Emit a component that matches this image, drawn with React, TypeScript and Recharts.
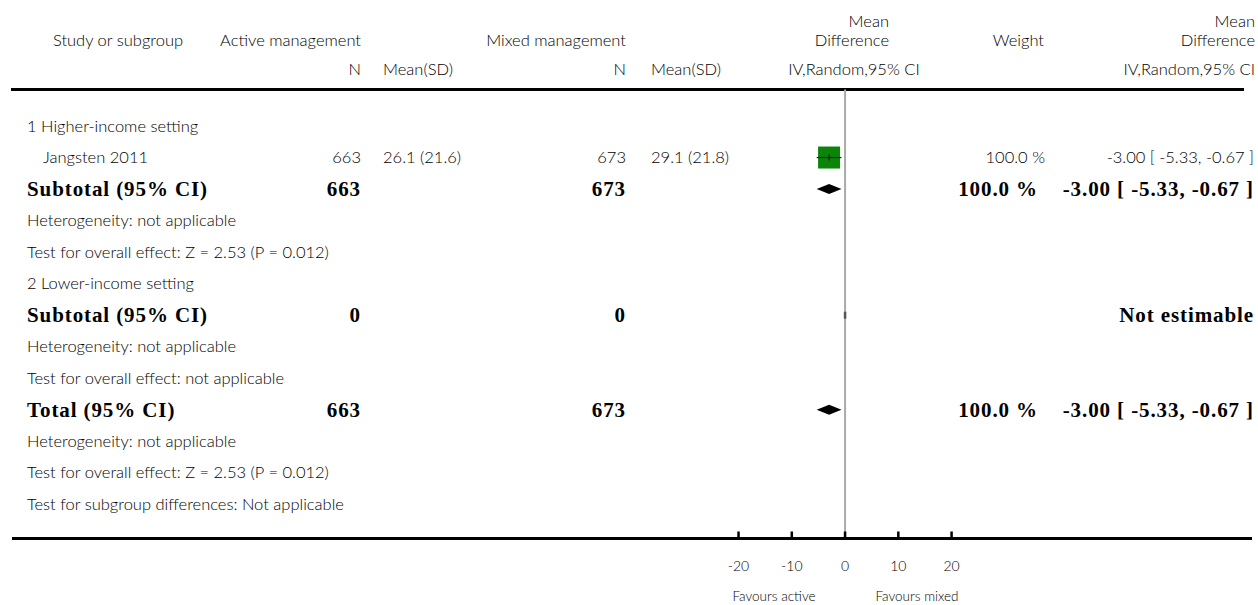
import {
  ComposedChart,
  Bar,
  XAxis,
  YAxis,
  ReferenceLine,
  Customized,
} from "recharts";

const rowLabels = [
  "1 Higher-income setting",
  "Jangsten 2011",
  "Subtotal (95% CI)",
  "Heterogeneity: not applicable",
  "Test for overall effect: Z = 2.53 (P = 0.012)",
  "2 Lower-income setting",
  "Subtotal (95% CI)",
  "Heterogeneity: not applicable",
  "Test for overall effect: not applicable",
  "Total (95% CI)",
  "Heterogeneity: not applicable",
  "Test for overall effect: Z = 2.53 (P = 0.012)",
  "Test for subgroup differences: Not applicable",
];
const rowKinds = [
  "group", "study", "pooled", "note", "note", "group", "pooled",
  "note", "note", "pooled", "note", "note", "note",
];
const activeN = [null, 663, 663, null, null, null, 0, null, null, 663, null, null, null];
const activeMeanSD = [null, "26.1 (21.6)", null, null, null, null, null, null, null, null, null, null, null];
const mixedN = [null, 673, 673, null, null, null, 0, null, null, 673, null, null, null];
const mixedMeanSD = [null, "29.1 (21.8)", null, null, null, null, null, null, null, null, null, null, null];
const meanDiff = [null, -3.0, -3.0, null, null, null, null, null, null, -3.0, null, null, null];
const ciLow = [null, -5.33, -5.33, null, null, null, null, null, null, -5.33, null, null, null];
const ciHigh = [null, -0.67, -0.67, null, null, null, null, null, null, -0.67, null, null, null];
const weights = [null, 100.0, 100.0, null, null, null, null, null, null, 100.0, null, null, null];

const axisTicks = [-20, -10, 0, 10, 20];
const favourLabels = ["Favours active", "Favours mixed"];

const rows = rowLabels.map((label, i) => ({
  id: `r${i}`,
  label,
  kind: rowKinds[i],
  activeN: activeN[i],
  activeSD: activeMeanSD[i],
  mixedN: mixedN[i],
  mixedSD: mixedMeanSD[i],
  md: meanDiff[i],
  weight: weights[i],
  range:
    meanDiff[i] != null
      ? [ciLow[i], ciHigh[i]]
      : rowKinds[i] === "pooled"
      ? [0, 0]
      : null,
}));

const SANS = "Lato, 'Open Sans', sans-serif";
const SERIF = "'Liberation Serif', serif";
const TEXT = "#000";

const fmt = (v: number) => v.toFixed(2);

const RowTick = (props: any) => {
  const { y, payload } = props;
  const r = rows.find((d) => d.id === payload.value);
  if (!r) return <g />;
  const plain = { fontFamily: SANS, fontSize: 16.5, fontWeight: 300, fill: TEXT };
  const bold = {
    fontFamily: SERIF,
    fontSize: 21,
    fontWeight: 700,
    fill: "#000",
    letterSpacing: 0.9,
  };
  if (r.kind === "study") {
    return (
      <g>
        <text x={43} y={y} dy="0.35em" {...plain}>{r.label}</text>
        <text x={361} y={y} dy="0.35em" textAnchor="end" {...plain}>{r.activeN}</text>
        <text x={383} y={y} dy="0.35em" {...plain}>{r.activeSD}</text>
        <text x={626} y={y} dy="0.35em" textAnchor="end" {...plain}>{r.mixedN}</text>
        <text x={651} y={y} dy="0.35em" {...plain}>{r.mixedSD}</text>
        <text x={1045} y={y} dy="0.35em" textAnchor="end" {...plain}>
          {r.weight!.toFixed(1)} %
        </text>
        <text x={1254} y={y} dy="0.35em" textAnchor="end" {...plain}>
          {`${fmt(r.md!)} [ ${fmt(r.range![0]!)}, ${fmt(r.range![1]!)} ]`}
        </text>
      </g>
    );
  }
  if (r.kind === "pooled") {
    return (
      <g>
        <text x={27} y={y} dy="0.33em" {...bold}>{r.label}</text>
        <text x={361} y={y} dy="0.33em" textAnchor="end" {...bold}>{r.activeN}</text>
        <text x={626} y={y} dy="0.33em" textAnchor="end" {...bold}>{r.mixedN}</text>
        {r.md != null ? (
          <>
            <text x={1038} y={y} dy="0.33em" textAnchor="end" {...bold}>
              {r.weight!.toFixed(1)} %
            </text>
            <text x={1254} y={y} dy="0.33em" textAnchor="end" {...bold}>
              {`${fmt(r.md)} [ ${fmt(r.range![0]!)}, ${fmt(r.range![1]!)} ]`}
            </text>
          </>
        ) : (
          <text x={1254} y={y} dy="0.33em" textAnchor="end" {...bold}>
            Not estimable
          </text>
        )}
      </g>
    );
  }
  return (
    <text x={27} y={y} dy="0.35em" {...plain}>
      {r.label}
    </text>
  );
};

const ForestMark = (props: any) => {
  const { x, y, width, height, payload } = props;
  if (!payload || !payload.range) return <g />;
  const cy = y + height / 2;
  const [lo, hi] = payload.range;
  if (payload.md == null) {
    return (
      <line x1={x} x2={x} y1={cy - 3.5} y2={cy + 3.5} stroke="#555" strokeWidth={2.5} />
    );
  }
  const mx = x + (width * (payload.md - lo)) / (hi - lo);
  if (payload.kind === "study") {
    const side = Math.sqrt(payload.weight / 100) * 22;
    return (
      <g>
        <rect x={mx - side / 2} y={cy - side / 2} width={side} height={side} fill="#0a850a" />
        <line x1={x} x2={x + width} y1={cy} y2={cy} stroke="#222" strokeWidth={1.2} />
        <line x1={mx} x2={mx} y1={cy - 3} y2={cy + 3} stroke="#222" strokeWidth={1.2} />
      </g>
    );
  }
  return (
    <polygon
      points={`${x},${cy} ${mx},${cy - 5} ${x + width},${cy} ${mx},${cy + 5}`}
      fill="#000"
    />
  );
};

const AxisTick = (props: any) => {
  const { x, y, payload } = props;
  return (
    <g>
      <line x1={x} x2={x} y1={y - 7} y2={y} stroke="#000" strokeWidth={2.5} />
      <text x={x} y={y + 32} textAnchor="middle" fontFamily={SANS} fontWeight={300} fontSize={14} fill={TEXT}>
        {payload.value}
      </text>
    </g>
  );
};

const Header = () => {
  const t = { fontFamily: SANS, fontSize: 16.5, fontWeight: 300, fill: TEXT };
  return (
    <g>
      <line x1={11} x2={1244} y1={89.5} y2={89.5} stroke="#000" strokeWidth={3} />
      <text x={118} y={46} textAnchor="middle" {...t}>Study or subgroup</text>
      <text x={361} y={46} textAnchor="end" {...t}>Active management</text>
      <text x={626} y={46} textAnchor="end" {...t}>Mixed management</text>
      <text x={889} y={27} textAnchor="end" {...t}>Mean</text>
      <text x={889} y={46} textAnchor="end" {...t}>Difference</text>
      <text x={1044} y={46} textAnchor="end" {...t}>Weight</text>
      <text x={1255} y={27} textAnchor="end" {...t}>Mean</text>
      <text x={1255} y={46} textAnchor="end" {...t}>Difference</text>
      <text x={361} y={75} textAnchor="end" {...t}>N</text>
      <text x={383} y={75} {...t}>Mean(SD)</text>
      <text x={626} y={75} textAnchor="end" {...t}>N</text>
      <text x={651} y={75} {...t}>Mean(SD)</text>
      <text x={854} y={75} textAnchor="middle" {...t}>IV,Random,95% CI</text>
      <text x={1255} y={75} textAnchor="end" {...t}>IV,Random,95% CI</text>
      <text x={774} y={601} textAnchor="middle" fontFamily={SANS} fontWeight={300} fontSize={13.5} fill={TEXT}>
        {favourLabels[0]}
      </text>
      <text x={917} y={601} textAnchor="middle" fontFamily={SANS} fontWeight={300} fontSize={13.5} fill={TEXT}>
        {favourLabels[1]}
      </text>
    </g>
  );
};

const App = () => {
  return (
    <div style={{ position: "absolute", left: 0, top: 0, background: "#fff" }}>
      <ComposedChart
        layout="vertical"
        width={1258}
        height={605}
        data={rows}
        margin={{ top: 89.5, right: 6, bottom: 6.5, left: 11 }}
      >
        <XAxis
          type="number"
          domain={[-156.4, 76.4]}
          allowDataOverflow
          ticks={axisTicks}
          interval={0}
          height={60}
          tickSize={0}
          tickMargin={0}
          tickLine={false}
          axisLine={{ stroke: "#000", strokeWidth: 3 }}
          tick={<AxisTick />}
        />
        <YAxis
          type="category"
          dataKey="id"
          width={1}
          interval={0}
          axisLine={false}
          tickLine={false}
          padding={{ top: 20.5, bottom: 18.5 }}
          tick={<RowTick />}
        />
        <ReferenceLine x={0} stroke="#aaa" strokeWidth={2} zIndex={50} />
        <Bar
          dataKey="range"
          barSize={22}
          shape={<ForestMark />}
          isAnimationActive={false}
        />
        <Customized component={Header} />
      </ComposedChart>
    </div>
  );
};

export default App;
